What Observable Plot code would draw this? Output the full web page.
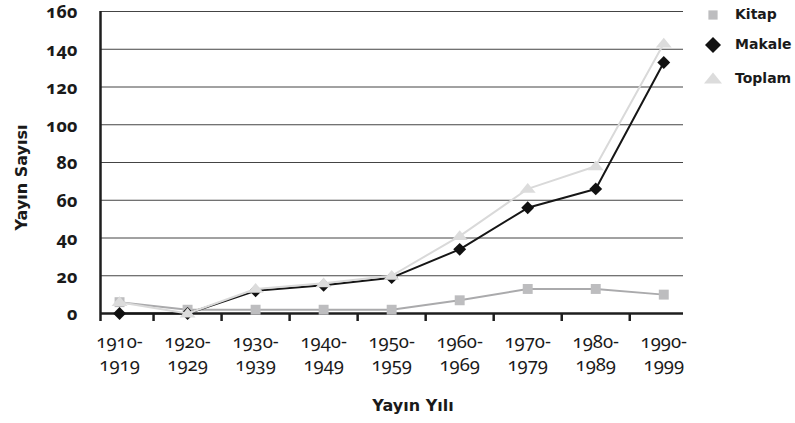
<!DOCTYPE html>
<html><head><meta charset="utf-8">
<script src="https://cdn.jsdelivr.net/npm/d3@7"></script>
<script src="https://cdn.jsdelivr.net/npm/@observablehq/plot@0.6"></script>
<style>
body{margin:0;background:#fff;}
#chart{position:relative;width:795px;height:423px;overflow:hidden;}
.lg{position:absolute;font-family:"DejaVu Sans",sans-serif;font-weight:bold;font-size:14px;color:#1a1a1a;line-height:1;}
.on{font-family:"Noto Sans",sans-serif;font-variant-numeric:oldstyle-nums;font-feature-settings:"onum" 1;}
</style></head><body><div id="chart"></div>
<script>
const categories = ["1910-1919","1920-1929","1930-1939","1940-1949","1950-1959","1960-1969","1970-1979","1980-1989","1990-1999"];
const kitap  = [6, 2, 2, 2, 2, 7, 13, 13, 10];
const makale = [0, 0, 12, 15, 19, 34, 56, 66, 133];
const toplam = [6, 0, 13, 16, 20, 41, 66, 78, 143];
const yTicks = [0, 20, 40, 60, 80, 100, 120, 140, 160];
const seriesNames = ["Kitap", "Makale", "Toplam"];

const xDomain = [-0.28, 8.29];
const rows = (vals) => vals.map((v, i) => ({i, v, cat: categories[i]}));
const boundaries = [xDomain[0], ...categories.slice(1).map((_, i) => i + 0.5)];

const flatTriangle = {
  draw(ctx, size) {
    const s = Math.sqrt(size), a = s * 0.82, h = s * 1.0;
    ctx.moveTo(0, -h * 0.6); ctx.lineTo(a, h * 0.4); ctx.lineTo(-a, h * 0.4); ctx.closePath();
  }
};

const styles = {
  Kitap:  {line: "#aaaaac", fill: "#bdbdbf", symbol: "square", r: 5.6},
  Makale: {line: "#161616", fill: "#111111", symbol: "diamond2", r: 5.8},
  Toplam: {line: "#d9d9d9", fill: "#dcdcdc", symbol: flatTriangle, r: 5.5}
};
const seriesVals = {Kitap: kitap, Makale: makale, Toplam: toplam};
const bold = "'DejaVu Sans', sans-serif";

const marks = [
  Plot.ruleY(yTicks.filter(d => d > 0), {y: d => d, stroke: "#444", strokeWidth: 1}),
  Plot.ruleX([xDomain[0]], {x: d => d, stroke: "#1e1e1e", strokeWidth: 2.5}),
  Plot.axisX(boundaries, {tickSize: 8, tickFormat: () => "", label: null, stroke: "#1e1e1e", strokeWidth: 2.5}),
  Plot.ruleY([0], {y: d => d, stroke: "#1e1e1e", strokeWidth: 2.5}),
  Plot.text(yTicks, {y: d => d, frameAnchor: "left", textAnchor: "end", lineAnchor: "middle", dx: -23, dy: 1, fontWeight: "bold", fontSize: 18, fill: "#1a1a1a", className: "on"}),
  Plot.text(categories.map((c, i) => ({i, label: c.replace("-", "-\n")})), {x: "i", text: "label", frameAnchor: "bottom", textAnchor: "middle", lineAnchor: "top", dy: 18, fontSize: 18.5, lineHeight: 1.24, fill: "#1a1a1a", className: "on"}),
  Plot.text(["Yayın Sayısı"], {frameAnchor: "left", textAnchor: "middle", lineAnchor: "middle", dx: -79, dy: 15, rotate: -90, fontFamily: bold, fontWeight: "bold", fontSize: 16, fill: "#1a1a1a"}),
  Plot.text(["Yayın Yılı"], {frameAnchor: "bottom", textAnchor: "middle", lineAnchor: "middle", dx: 21, dy: 92, fontFamily: bold, fontWeight: "bold", fontSize: 16, fill: "#1a1a1a"})
];
for (const name of seriesNames) {
  const st = styles[name], data = rows(seriesVals[name]);
  marks.push(Plot.line(data, {x: "i", y: "v", stroke: st.line, strokeWidth: 2}));
  marks.push(Plot.dot(data, {x: "i", y: "v", symbol: st.symbol, r: st.r, fill: st.fill, stroke: "none"}));
}

const chart = Plot.plot({
  width: 795, height: 423,
  marginLeft: 100, marginRight: 112, marginTop: 11, marginBottom: 110,
  x: {type: "linear", domain: xDomain, axis: null},
  y: {domain: [0, 160], axis: null},
  style: {fontFamily: "'Noto Sans', sans-serif", background: "#fff", color: "#1a1a1a"},
  marks
});
const host = document.getElementById("chart");
host.appendChild(chart);

// legend
const legendPos = {Kitap: 15, Makale: 45, Toplam: 79};
for (const name of seriesNames) {
  const st = styles[name];
  const cy = legendPos[name];
  const sym = d3.symbol(typeof st.symbol === "string" ? {square: d3.symbolSquare, diamond2: d3.symbolDiamond2}[st.symbol] : st.symbol, (name === "Makale" ? 7.2 : name === "Toplam" ? 6.2 : 5.2) ** 2 * Math.PI)();
  const s = d3.select(host).append("svg").attr("class", "lg").attr("width", 24).attr("height", 24)
    .style("left", "701px").style("top", (cy - 12) + "px");
  s.append("path").attr("d", sym).attr("transform", "translate(12,12)").attr("fill", st.fill);
  d3.select(host).append("div").attr("class", "lg").text(name)
    .style("left", "735px").style("top", (cy - 8) + "px");
}
</script></body></html>
